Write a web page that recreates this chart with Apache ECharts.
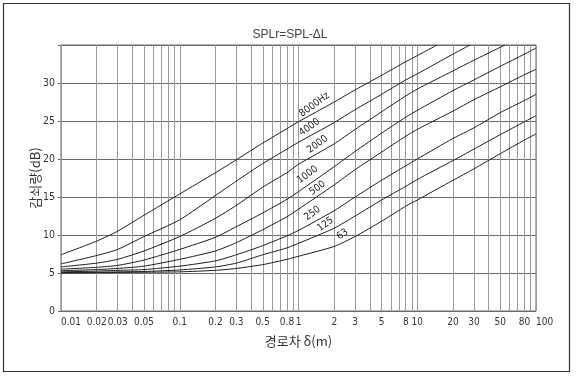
<!DOCTYPE html>
<html><head><meta charset="utf-8">
<script src="https://cdn.jsdelivr.net/npm/echarts@6/dist/echarts.min.js"></script>
<style>html,body{margin:0;padding:0;background:#fff;}#c{width:580px;height:377px;}</style>
</head><body><div id="c"></div>
<script>
// path difference δ (m) at which the curves were read
const deltas = [0.01,0.02,0.03,0.05,0.1,0.2,0.3,0.5,0.8,1,2,3,5,8,10,20,30,50,80,100];
const curveNames = ['8000Hz','4000','2000','1000','500','250','125','63'];
// attenuation (dB) of each curve at the deltas above
const db8000 = [7.4,9.2,10.5,12.6,15.4,18.2,19.9,22.1,24.0,24.9,27.5,29.1,31.0,32.8,33.6];
const db4000 = [6.2,7.3,8.1,9.8,12.0,15.2,17.1,19.4,21.3,22.2,24.8,26.5,28.5,30.4,31.2,33.8];
const db2000 = [5.8,6.3,6.8,7.9,9.8,12.2,13.9,16.3,18.2,19.3,22.0,23.9,26.2,28.3,29.2,31.6,33.0,34.7];
const db1000 = [5.5,5.75,6.0,6.7,8.1,9.7,11.1,12.9,14.7,15.7,19.0,21.0,23.4,25.5,26.4,29.0,30.4,32.2,33.8,34.6];
const db500  = [5.3,5.45,5.6,5.9,6.8,7.9,9.0,10.7,12.4,13.4,16.6,18.6,20.9,23.0,23.9,26.3,27.8,29.5,31.1,31.8];
const db250  = [5.15,5.25,5.35,5.45,5.9,6.6,7.4,8.6,9.9,10.6,13.2,15.0,17.2,19.1,20.0,22.7,24.1,26.1,27.7,28.5];
const db125  = [5.05,5.1,5.15,5.2,5.4,5.8,6.3,7.4,8.3,8.9,10.9,12.5,14.6,16.4,17.3,19.8,21.3,23.2,24.9,25.7];
const db63   = [5.0,5.05,5.07,5.1,5.15,5.35,5.6,6.1,6.8,7.2,8.5,9.8,11.8,13.8,14.6,17.2,18.7,20.7,22.5,23.3];
// δ where a curve leaves the top of the chart (at yMax)
const topExitDelta = [14.7,27.8,54.8,null,null,null,null,null];
// axis ticks
const xTickLabels = [0.01,0.02,0.03,0.05,0.1,0.2,0.3,0.5,0.8,1,2,3,5,8,10,20,30,50,80,100];
const xGridValues = [0.01,0.02,0.03,0.04,0.05,0.06,0.07,0.08,0.09,
  0.1,0.2,0.3,0.4,0.5,0.6,0.7,0.8,0.9,
  1,2,3,4,5,6,7,8,9,
  10,20,30,40,50,60,70,80,90,100];
const yMin = 0, yMax = 35, yStep = 5;

const curves = [db8000, db4000, db2000, db1000, db500, db250, db125, db63];
// label placement (style): label centre in px relative to the δ=1 point
const labelPos = [[16,-17],[11,-15],[19,-20],[9,-17],[19,-21],[14,-17],[27,-19],[44,-22]];
const labelAt = deltas.indexOf(1);
const narrow = "'DejaVu Sans Condensed','Liberation Sans Narrow','Liberation Sans',sans-serif";
const fmt = v => String(+(+v).toPrecision(6));

const series = curves.map((vals, i) => {
  const data = vals.map((v, j) => [deltas[j], v]);
  if (topExitDelta[i] != null) data.push([topExitDelta[i], yMax]);
  data[labelAt] = {
    value: data[labelAt],
    label: { show: true, formatter: curveNames[i], position: labelPos[i], align: 'center', verticalAlign: 'middle',
      rotate: 36, fontSize: 10, color: '#222', fontFamily: narrow }
  };
  return {
    type: 'line', name: curveNames[i], data, smooth: 0.2,
    symbol: 'circle', symbolSize: 0, showSymbol: true,
    lineStyle: { color: '#1c1c1c', width: 1 }, itemStyle: { color: '#1c1c1c' },
    label: { show: false }, labelLayout: { hideOverlap: false }, silent: true, animation: false, z: 5
  };
});

const innerLabels = xTickLabels.slice(1, -1);
const endLabels = [xTickLabels[0], xTickLabels[xTickLabels.length - 1]];
const labelStyle = { fontSize: 10, color: '#333', fontFamily: narrow };

const chart = echarts.init(document.getElementById('c'), null, { renderer: 'canvas' });
chart.setOption({
  backgroundColor: '#fff',
  animation: false,
  title: { text: 'SPLr=SPL-ΔL', left: 'center', top: 24,
    textStyle: { fontSize: 12, fontWeight: 'normal', color: '#444', fontFamily: "'Liberation Sans',sans-serif" } },
  graphic: [{ type: 'rect', shape: { x: 3.5, y: 3.5, width: 566, height: 368 },
    style: { fill: null, stroke: '#333', lineWidth: 1.2 }, silent: true }],
  grid: { left: 61, right: 44, top: 45, bottom: 66, show: true, borderColor: '#666', borderWidth: 1, backgroundColor: 'transparent' },
  xAxis: [{
    type: 'log', logBase: 10, min: 0.01, max: 100, position: 'bottom',
    axisLine: { show: false },
    axisTick: { show: false, customValues: xGridValues },
    axisLabel: Object.assign({ customValues: innerLabels, margin: 6, hideOverlap: false, formatter: fmt }, labelStyle),
    splitLine: { show: true, lineStyle: { color: '#9a9a9a', width: 1 } },
    name: '경로차 δ(m)', nameLocation: 'middle', nameGap: 24, nameMoveOverlap: false,
    nameTextStyle: { fontSize: 13, color: '#333', fontFamily: "'Noto Sans CJK KR',sans-serif" }
  }, {
    type: 'log', logBase: 10, min: 0.01, max: 100, position: 'bottom', offset: 0,
    axisLine: { show: false }, axisTick: { show: false }, splitLine: { show: false },
    axisLabel: Object.assign({ customValues: endLabels, margin: 6, align: 'left',
      showMinLabel: true, showMaxLabel: true, formatter: fmt }, labelStyle)
  }],
  yAxis: {
    type: 'value', min: yMin, max: yMax, interval: yStep,
    axisLine: { show: false },
    axisTick: { show: true, length: 3, lineStyle: { color: '#666' } },
    axisLabel: { margin: 6, fontSize: 10.5, color: '#333', fontFamily: narrow,
      formatter: v => (v === yMax ? '' : String(v)) },
    splitLine: { show: true, lineStyle: { color: '#6a6a6a', width: 1 } },
    name: '감쇠량(dB)', nameLocation: 'middle', nameGap: 19, nameMoveOverlap: false,
    nameTextStyle: { fontSize: 13, color: '#333', fontFamily: "'Noto Sans CJK KR',sans-serif" }
  },
  series
});
</script></body></html>
